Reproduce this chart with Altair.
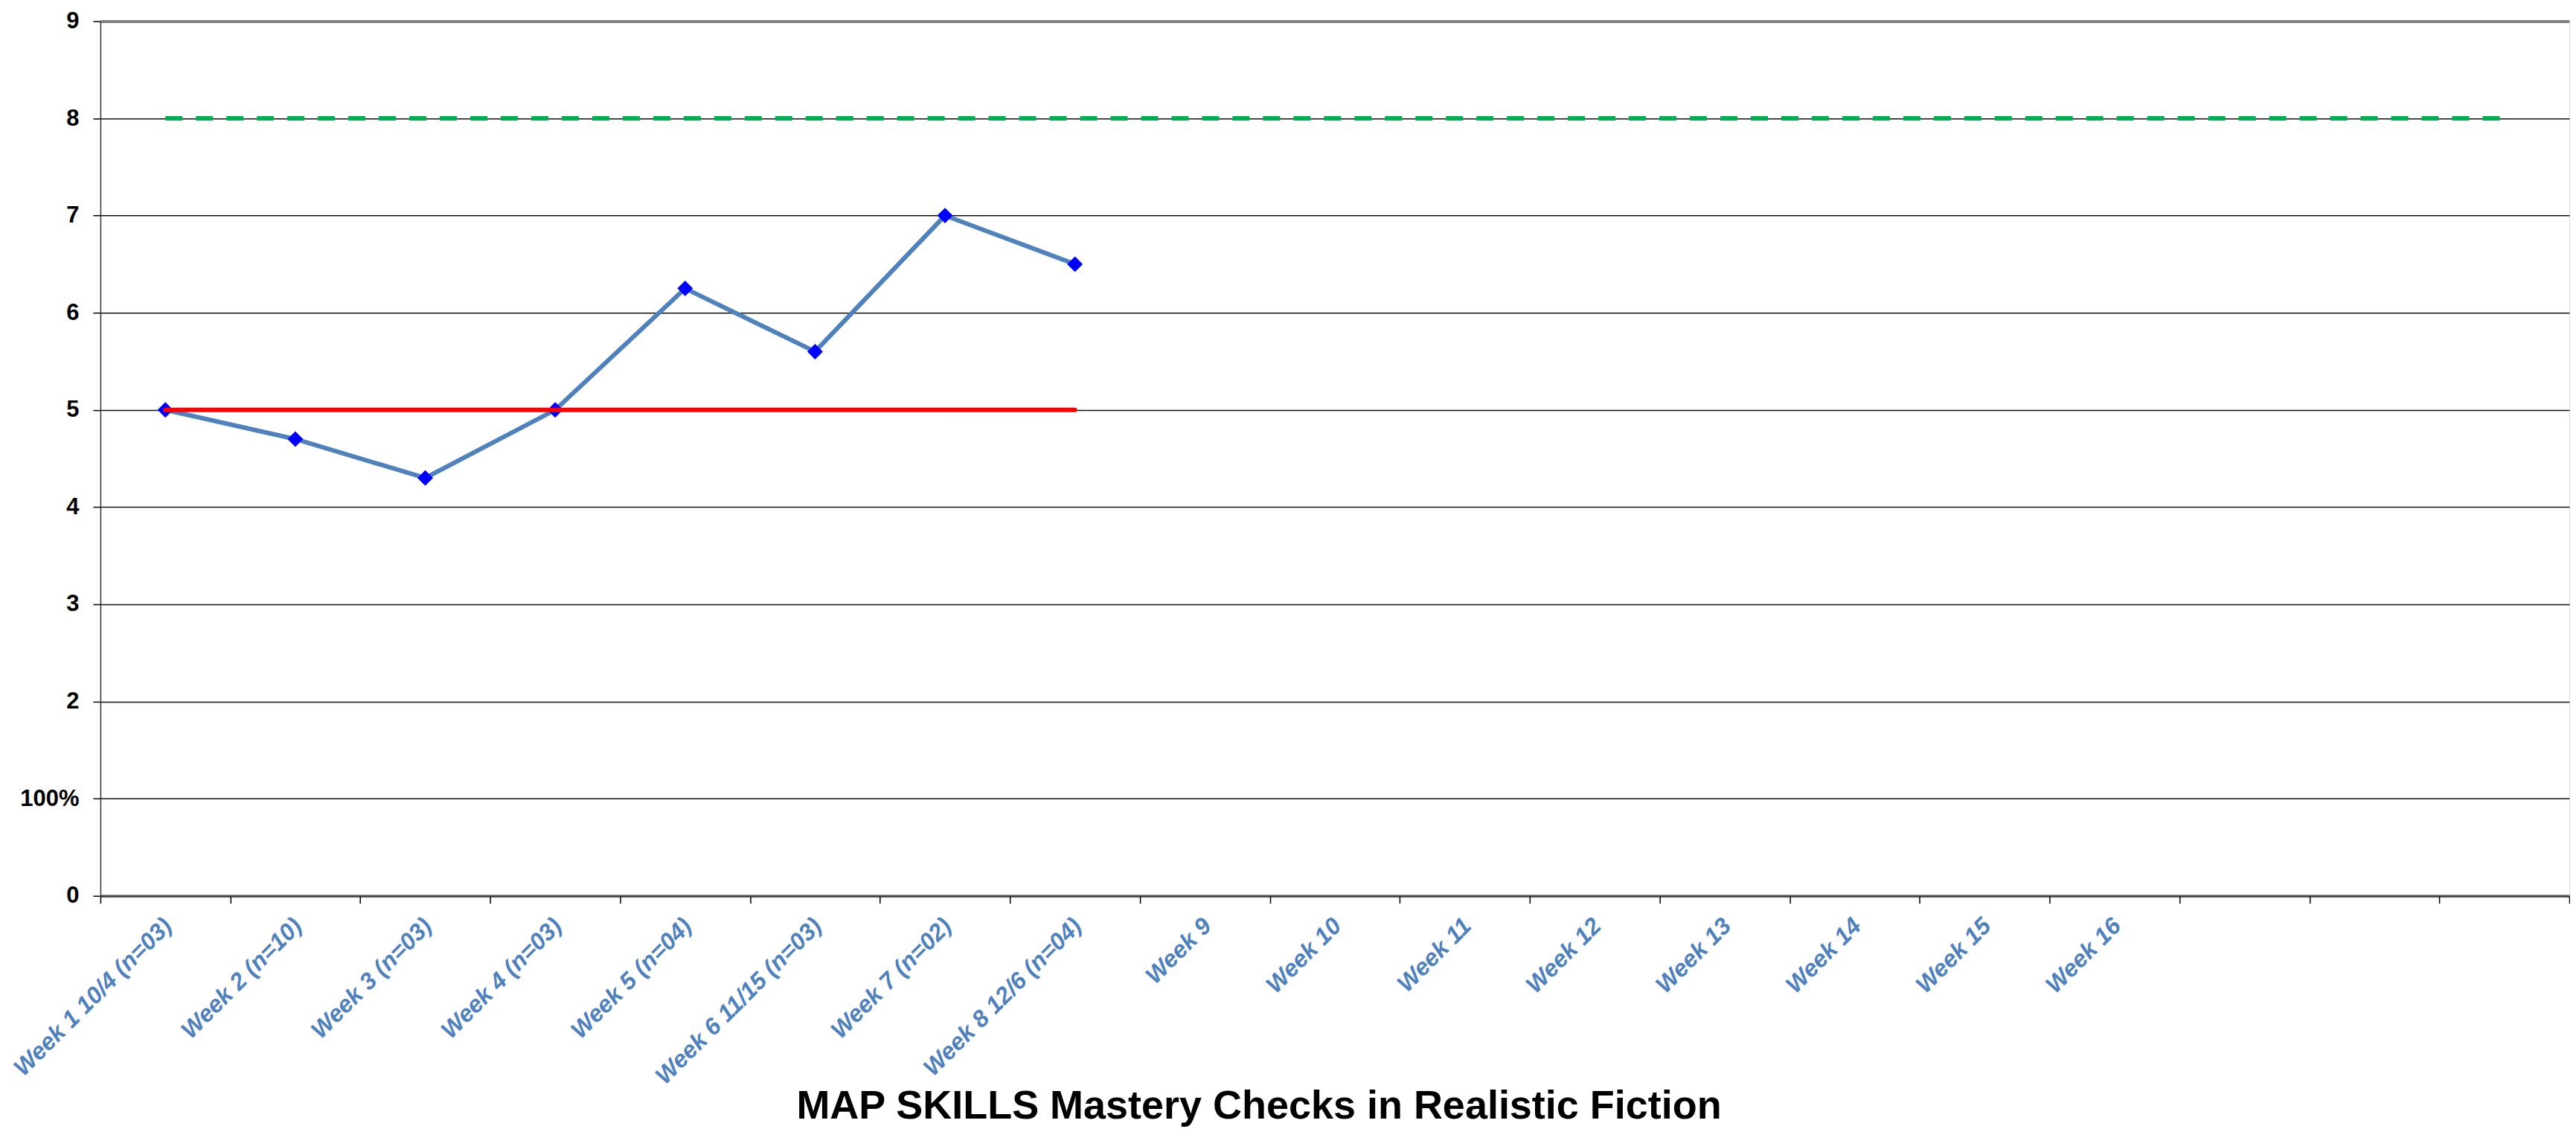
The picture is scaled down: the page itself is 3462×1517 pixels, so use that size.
import json
import altair as alt
import pandas as pd

# ---- data ----
categories = [
    "Week 1 10/4 (n=03)", "Week 2 (n=10)", "Week 3 (n=03)", "Week 4 (n=03)",
    "Week 5 (n=04)", "Week 6 11/15 (n=03)", "Week 7 (n=02)", "Week 8 12/6 (n=04)",
    "Week 9", "Week 10", "Week 11", "Week 12", "Week 13", "Week 14", "Week 15",
    "Week 16", "", "", "",
]
score_values = [5.0, 4.7, 4.3, 5.0, 6.25, 5.6, 7.0, 6.5]
baseline_values = [5, 5, 5, 5, 5, 5, 5, 5]
goal_values = [8] * 19
y_ticks = [0, 1, 2, 3, 4, 5, 6, 7, 8, 9]
y_tick_labels = ["0", "100%", "2", "3", "4", "5", "6", "7", "8", "9"]
title_text = "MAP SKILLS Mastery Checks in Realistic Fiction"

idx_all = list(range(1, len(categories) + 1))
df_scores = pd.DataFrame({"idx": idx_all[: len(score_values)], "v": score_values})
df_base = pd.DataFrame({"idx": idx_all[: len(baseline_values)], "v": baseline_values})
df_goal = pd.DataFrame({"idx": idx_all[: len(goal_values)], "v": goal_values})

FONT = "'Liberation Sans', Arial, sans-serif"

x_enc = alt.X(
    "idx:O",
    bandPosition=0.5,
    scale=alt.Scale(type="band", domain=idx_all, paddingInner=0, paddingOuter=0),
    axis=alt.Axis(
        title=None,
        labelExpr=f"{json.dumps(categories)}[datum.value - 1]",
        labelAngle=-45,
        labelAlign="right",
        labelBaseline="middle",
        labelPadding=25,
        labelOffset=3,
        labelFontSize=32,
        labelFont=FONT,
        labelFontWeight="bold",
        labelFontStyle="italic",
        labelColor="#4F81BD",
        labelOverlap=False,
        labelLimit=1000,
        tickBand="extent",
        ticks=True,
        tickSize=10,
        tickColor="#000000",
        tickWidth=1.5,
        domain=True,
        domainColor="#333333",
        domainWidth=1.5,
        grid=False,
    ),
)

y_enc = alt.Y(
    "v:Q",
    scale=alt.Scale(domain=[0, 9], nice=False, zero=True),
    axis=alt.Axis(
        title=None,
        values=y_ticks,
        labelExpr=f"{json.dumps(y_tick_labels)}[datum.value]",
        labelFontSize=31,
        labelFont=FONT,
        labelFontWeight="bold",
        labelColor="#000000",
        labelPadding=19,
        tickSize=10,
        tickColor="#000000",
        tickWidth=1.5,
        domain=True,
        domainColor="#333333",
        domainWidth=1.5,
        grid=True,
        gridColor={
            "condition": {"test": "datum.value === 9 || datum.value === 0", "value": "#808080"},
            "value": "#111111",
        },
        gridWidth={
            "condition": {"test": "datum.value === 9 || datum.value === 0", "value": 4},
            "value": 1.5,
        },
    ),
)

scores_line = alt.Chart(df_scores).mark_line(color="#4F81BD", strokeWidth=6).encode(x=x_enc, y=y_enc)
scores_pts = alt.Chart(df_scores).mark_point(
    shape="diamond", filled=True, size=440, color="#0000FF", opacity=1
).encode(x=x_enc, y=y_enc)
base_line = alt.Chart(df_base).mark_line(color="#FF0000", strokeWidth=6, strokeCap="round").encode(x=x_enc, y=y_enc)
goal_line = alt.Chart(df_goal).mark_line(
    color="#00B050", strokeWidth=6, strokeDash=[23, 18], strokeCap="butt"
).encode(x=x_enc, y=y_enc)

chart = (
    alt.layer(scores_line, scores_pts, base_line, goal_line)
    .properties(
        width=3320,
        height=1176,
        padding={"left": 4, "top": 4, "right": 0, "bottom": 0},
        title=alt.TitleParams(
            text=title_text,
            orient="bottom",
            anchor="middle",
            frame="group",
            dx=-102,
            offset=-2,
            fontSize=54,
            font=FONT,
            fontWeight="bold",
            color="#000000",
        ),
    )
    .configure_view(stroke="#808080", strokeWidth=4)
    .configure(background="white")
)

chart.save("out.html", embed_options={"renderer": "svg", "actions": False})
